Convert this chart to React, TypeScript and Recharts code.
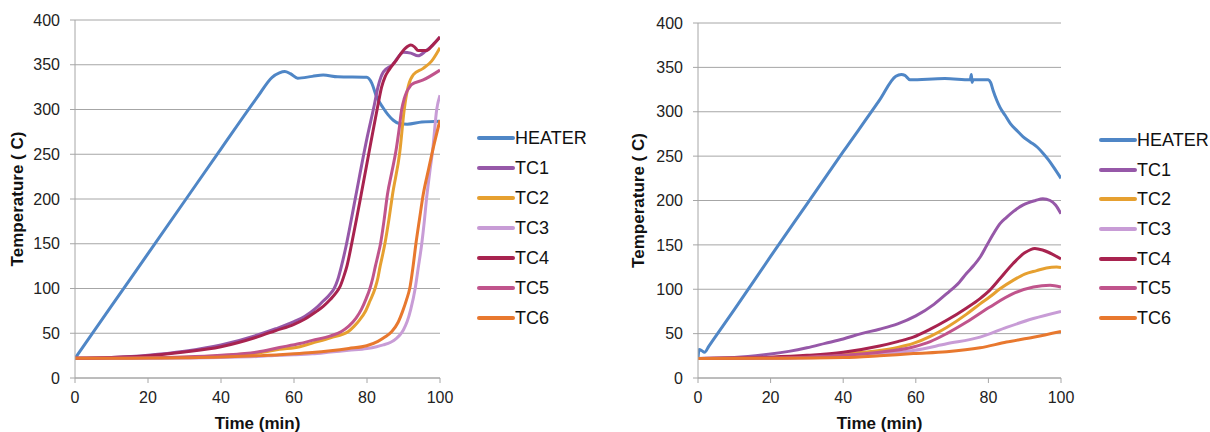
import { LineChart, Line, XAxis, YAxis, CartesianGrid, Legend } from "recharts";

// [time (min), temperature (C)]
const heaterA = [[0, 22], [10, 80.5], [20, 139], [30, 197.5], [40, 256], [50, 314], [54, 336], [56, 341], [57.5, 342.5], [59, 340], [61, 335], [65, 337], [68, 338.5], [72, 336.5], [79.9, 336], [81.3, 329.5], [82.6, 314.5], [84.4, 302], [85.8, 294], [87.2, 288], [89, 284], [91, 283.5], [95, 286], [100, 287]];
const tc1A = [[0, 22], [10, 23], [20, 25.5], [30, 30], [40, 37], [50, 48], [55, 55], [60, 63], [63, 69], [66, 78], [68, 86], [69.5, 92], [71, 100], [72, 110], [73, 125], [74.4, 150], [75.7, 177], [77, 205], [80, 268], [82, 305], [83, 325], [83.8, 336], [84.5, 342], [87, 350], [90, 364], [92, 363], [94, 360], [96, 365], [98, 372], [100, 381]];
const tc2A = [[0, 22], [20, 22.5], [30, 23.3], [40, 25], [50, 28], [56, 32], [61.6, 35], [65, 39], [70, 45], [74.9, 52], [76.5, 58], [78, 65], [79.5, 74], [80.8, 86], [82.2, 100], [83, 112], [83.6, 125], [84.3, 138], [84.9, 150], [86, 177], [87, 205], [89, 253], [90.2, 300], [91.3, 326], [92.7, 339], [95.4, 346], [97.7, 354], [100, 369]];
const tc3A = [[0, 22], [20, 22.2], [40, 23], [50, 24], [56, 25.5], [60, 26], [65, 27], [70, 29], [75, 31], [80, 33], [82.6, 35], [84.5, 37], [86.5, 40], [88, 44], [89, 48], [90, 54], [91, 63], [92, 77], [93.2, 100], [94, 122], [95, 150], [95.7, 175], [96.3, 200], [97.2, 230], [98, 255], [99.1, 300], [100, 316]];
const tc4A = [[0, 22], [10, 23], [20, 25], [30, 29], [40, 35], [50, 46], [55, 53], [60, 60], [63, 66], [66, 74], [68, 80], [70, 88], [71.5, 95], [72.6, 102], [73.6, 113], [74.5, 125], [75.8, 150], [77.1, 177], [78.4, 205], [81, 262], [83, 305], [84, 325], [85, 337], [86, 344], [88, 355], [90.4, 368], [92, 372], [93, 370], [94, 366], [96.3, 366], [98, 372], [100, 381]];
const tc5A = [[0, 22], [20, 22.5], [30, 23.5], [40, 25.5], [50, 29], [56, 34], [61.6, 38.5], [65, 42], [70, 47], [73, 52], [75, 58], [77, 67], [78.5, 77], [79.8, 89], [80.8, 100], [81.6, 112], [82.3, 125], [83, 137], [83.7, 150], [84.7, 177], [85.6, 205], [86.8, 230], [87.9, 253], [88.8, 278], [89.5, 300], [90.2, 312], [90.8, 319], [91.5, 324], [92.2, 328], [95.4, 333], [100, 344]];
const tc6A = [[0, 22], [20, 22.3], [40, 23.5], [50, 25], [56, 26], [60, 27], [65, 28.5], [70, 30.5], [75, 33], [79.9, 36], [83, 41], [85, 46], [86.8, 52], [88.5, 62], [89.8, 75], [90.8, 87], [91.8, 102], [92.6, 124], [93.4, 150], [94.4, 178], [95.4, 205], [96.8, 232], [98.2, 258], [100, 288]];

const heaterB = [[0, 22], [0.3, 32], [1, 31], [1.8, 29], [3, 36], [10, 77], [20, 137], [30, 196], [40, 255], [50, 313], [54.5, 340], [56, 342], [57, 341], [58.4, 336], [68, 337.5], [75, 336], [75.3, 342], [75.5, 333], [75.8, 336], [80, 336], [80.6, 333], [81.3, 324], [82.3, 313], [83.2, 305], [84.6, 296], [86, 287], [87.8, 279], [89.5, 272], [91.5, 266], [93.5, 260], [95.1, 253], [96.5, 246], [97.9, 238], [100, 225]];
const tc1B = [[0, 22], [10, 23], [20, 27], [25, 30], [30, 34], [35, 39], [40, 44], [45, 50], [50, 55], [55, 61], [60, 70], [65, 83], [68.5, 95], [72, 108], [74, 118], [76, 127], [77.7, 136], [79.5, 149], [81.3, 162], [83.2, 174], [85, 181], [87, 188], [89.6, 195], [93, 200], [95, 202], [97, 200], [98.5, 195], [100, 185]];
const tc2B = [[0, 22], [20, 23], [30, 24.5], [40, 27], [50, 31], [55, 34.5], [59.3, 39], [64, 47], [68.5, 57], [74, 72], [77.7, 83.5], [80.4, 91.5], [83.2, 100.5], [86.8, 110], [90, 117], [93.3, 121], [96, 124], [98.8, 125], [100, 124.5]];
const tc3B = [[0, 22], [20, 22.3], [40, 24], [50, 27], [59.3, 31], [68.5, 38.5], [77.7, 46], [85, 57], [92.4, 67], [100, 75]];
const tc4B = [[0, 22], [20, 23.5], [30, 25.5], [40, 29], [50, 36], [55, 41], [59.3, 46], [64, 55], [68.5, 65], [74, 79], [77.7, 89.5], [80.4, 99], [83.2, 112], [86.8, 129], [90, 141], [92.8, 146], [95.1, 144], [100, 134]];
const tc5B = [[0, 22], [20, 22.5], [30, 23.5], [40, 25.5], [50, 29], [59.3, 35], [64, 41], [68.5, 50], [74, 63], [80.4, 80], [86.8, 95], [92.4, 102.5], [97, 104.5], [100, 102.5]];
const tc6B = [[0, 22], [20, 22.2], [40, 23], [50, 25], [59.3, 27.5], [68.5, 29.5], [77.7, 34], [85, 40.5], [92.4, 46], [100, 52.5]];

const NAMES = ["HEATER", "TC1", "TC2", "TC3", "TC4", "TC5", "TC6"];
const COLORS = ["#4F86C6", "#9658A8", "#E6A030", "#C89CD6", "#A8234F", "#C0548C", "#E8782E"];
const X_TICKS = [0, 20, 40, 60, 80, 100];
const Y_TICKS = [0, 50, 100, 150, 200, 250, 300, 350, 400];

const FONT = "Arial, 'Liberation Sans', sans-serif";
const GRID = "#A6A6A6";

const toPts = (arr: number[][]) => arr.map(([t, v]) => ({ t, v }));

function SeriesLegend({ payload, rowH }: any) {
  return (
    <div style={{ fontFamily: FONT }}>
      {(payload || []).map((p: any) => (
        <div key={p.value} style={{ display: "flex", alignItems: "center", height: rowH }}>
          <svg width={38} height={8}>
            <line x1={2} y1={4} x2={36} y2={4} stroke={p.color} strokeWidth={4} strokeLinecap="round" />
          </svg>
          <span style={{ fontSize: 18, color: "#111", lineHeight: 1 }}>{p.value}</span>
        </div>
      ))}
    </div>
  );
}

function YTitle({ viewBox, dx }: any) {
  const cx = viewBox.x + dx;
  const cy = viewBox.y + viewBox.height / 2;
  return (
    <text x={cx} y={cy} transform={`rotate(-90 ${cx} ${cy})`} textAnchor="middle" dominantBaseline="central"
      style={{ fontFamily: FONT, fontSize: 17, fontWeight: 700, fill: "#111" }}>
      Temperature ( C)
    </text>
  );
}

function XTitle({ viewBox }: any) {
  return (
    <text x={viewBox.x + viewBox.width / 2} y={viewBox.y + 45} textAnchor="middle" dominantBaseline="central"
      style={{ fontFamily: FONT, fontSize: 17, fontWeight: 700, fill: "#111" }}>
      Time (min)
    </text>
  );
}

interface ChartProps {
  series: number[][][];
  width: number;
  top: number;
  yWidth: number;
  right: number;
  titleDx: number;
  legendLeft: number;
  legendTop: number;
  rowH: number;
}

function TempChart({ series, width, top, yWidth, right, titleDx, legendLeft, legendTop, rowH }: ChartProps) {
  const tick = { fontSize: 16, fill: "#222", fontFamily: FONT };
  return (
    <LineChart width={width} height={432} margin={{ top, right, bottom: 0, left: 0 }}>
      <CartesianGrid vertical={false} stroke={GRID} strokeWidth={1} />
      <XAxis type="number" dataKey="t" domain={[0, 100]} ticks={X_TICKS} allowDataOverflow height={54}
        stroke={GRID} tickSize={5} tickMargin={9} tick={tick} label={<XTitle />} />
      <YAxis type="number" domain={[0, 400]} ticks={Y_TICKS} width={yWidth} interval={0}
        stroke={GRID} tickSize={5} tickMargin={10} tick={tick} label={<YTitle dx={titleDx} />} />
      <Legend layout="vertical" align="center" verticalAlign="middle"
        wrapperStyle={{ left: legendLeft, top: legendTop, width: 130 }}
        content={<SeriesLegend rowH={rowH} />} />
      {series.map((s, i) => (
        <Line key={NAMES[i]} data={toPts(s)} dataKey="v" name={NAMES[i]} type="monotone" stroke={COLORS[i]}
          strokeWidth={3} dot={false} activeDot={false} isAnimationActive={false} />
      ))}
    </LineChart>
  );
}

export default function App() {
  return (
    <div style={{ position: "absolute", left: 0, top: 0, width: 1210, height: 432, background: "#fff" }}>
      <div style={{ position: "absolute", left: 0, top: 0 }}>
        <TempChart series={[heaterA, tc1A, tc2A, tc3A, tc4A, tc5A, tc6A]} width={605} top={20} yWidth={75}
          right={165} titleDx={17} legendLeft={477} legendTop={123} rowH={30} />
      </div>
      <div style={{ position: "absolute", left: 620, top: 0 }}>
        <TempChart series={[heaterB, tc1B, tc2B, tc3B, tc4B, tc5B, tc6B]} width={590} top={23} yWidth={78}
          right={149} titleDx={18} legendLeft={479} legendTop={125} rowH={29.7} />
      </div>
    </div>
  );
}
